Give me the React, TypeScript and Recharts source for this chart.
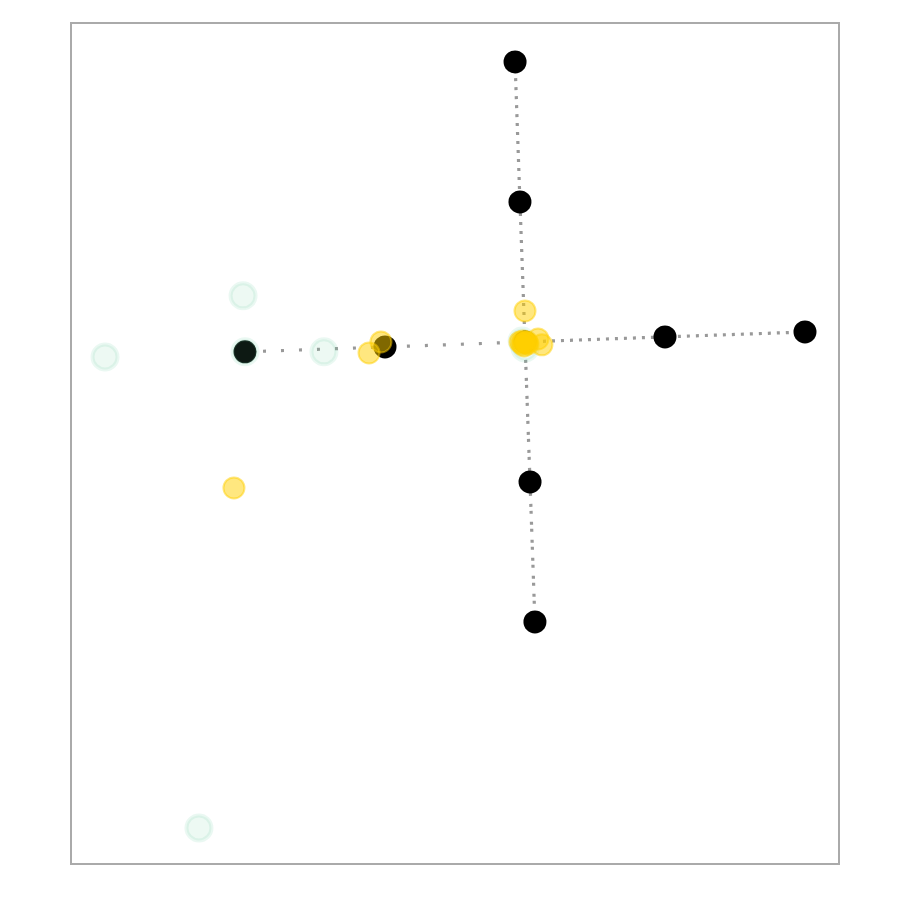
import { ComposedChart, Scatter, XAxis, YAxis, ReferenceArea } from "recharts"

type Pt = { x: number; y: number }

// axis range (no ticks shown, only the frame)
const X_DOMAIN: [number, number] = [-3.243, 2.243]
const Y_DOMAIN: [number, number] = [-3.729, 2.278]

// cross of anchor points
const anchorPoints: Pt[] = [
  { x: -0.071, y: 2 },
  { x: -0.036, y: 1 },
  { x: 0, y: 0 },
  { x: 0.036, y: -1 },
  { x: 0.071, y: -2 },
  { x: -2, y: -0.071 },
  { x: -1, y: -0.036 },
  { x: 1, y: 0.036 },
  { x: 2, y: 0.071 },
]

const topArm: Pt[] = [
  { x: 0, y: 0 },
  { x: -0.036, y: 1 },
  { x: -0.071, y: 2 },
]
const bottomArm: Pt[] = [
  { x: 0, y: 0 },
  { x: 0.036, y: -1 },
  { x: 0.071, y: -2 },
]
const leftArm: Pt[] = [
  { x: -2, y: -0.071 },
  { x: -1, y: -0.036 },
  { x: 0, y: 0 },
]
const rightArm: Pt[] = [
  { x: 0, y: 0 },
  { x: 1, y: 0.036 },
  { x: 2, y: 0.071 },
]

const yellowPoints: Pt[] = [
  { x: 0, y: 0.221 },
  { x: -0.036, y: 0 },
  { x: 0.021, y: -0.014 },
  { x: 0.093, y: 0.021 },
  { x: 0.121, y: -0.021 },
  { x: -0.007, y: -0.029 },
  { x: 0, y: 0 },
  { x: 0.007, y: -0.007 },
  { x: -0.014, y: 0.007 },
  { x: 0.014, y: 0 },
  { x: -0.021, y: -0.014 },
  { x: -1.029, y: 0 },
  { x: -1.114, y: -0.079 },
  { x: -2.079, y: -1.043 },
]

const greenPoints: Pt[] = [
  { x: -2.014, y: 0.329 },
  { x: -3.0, y: -0.107 },
  { x: -1.436, y: -0.071 },
  { x: -2.329, y: -3.471 },
  { x: -2, y: -0.071 },
  { x: 0, y: -0.043 },
  { x: -0.021, y: 0.007 },
]

const noDot = () => <g />

const blackDot = (p: any) => <circle cx={p.cx} cy={p.cy} r={11.5} fill="#000" />

const greenDot = (p: any) => (
  <circle
    cx={p.cx}
    cy={p.cy}
    r={12.5}
    fill="rgba(104,208,160,0.12)"
    stroke="rgba(104,208,160,0.14)"
    strokeWidth={4}
  />
)

const yellowDot = (p: any) => (
  <circle
    cx={p.cx}
    cy={p.cy}
    r={10.5}
    fill="rgba(255,208,0,0.5)"
    stroke="rgba(255,208,0,0.5)"
    strokeWidth={2}
  />
)

const arm = (data: Pt[], dash: string, key: string) => (
  <Scatter
    key={key}
    data={data}
    line={{ stroke: "#999", strokeWidth: 3.2, strokeDasharray: dash }}
    lineType="joint"
    shape={noDot}
    isAnimationActive={false}
  />
)

export default function App() {
  return (
    <div style={{ position: "absolute", left: 0, top: 0, width: 900, height: 900, background: "#fff" }}>
      <ComposedChart
        width={900}
        height={900}
        margin={{ top: 23, right: 61, bottom: 36, left: 71 }}
      >
        <XAxis type="number" dataKey="x" domain={X_DOMAIN} hide allowDataOverflow />
        <YAxis type="number" dataKey="y" domain={Y_DOMAIN} hide allowDataOverflow />
        <ReferenceArea
          x1={X_DOMAIN[0]}
          x2={X_DOMAIN[1]}
          y1={Y_DOMAIN[0]}
          y2={Y_DOMAIN[1]}
          fill="none"
          fillOpacity={0}
          stroke="#aaa"
          strokeWidth={2}
          ifOverflow="visible"
        />
        {arm(topArm, "3 6", "top")}
        {arm(rightArm, "3 6", "right")}
        {arm(bottomArm, "3 4 3 8", "bottom")}
        {arm(leftArm, "3 15", "left")}
        <Scatter data={anchorPoints} shape={blackDot} isAnimationActive={false} />
        <Scatter data={greenPoints} shape={greenDot} isAnimationActive={false} />
        <Scatter data={yellowPoints} shape={yellowDot} isAnimationActive={false} />
      </ComposedChart>
    </div>
  )
}
